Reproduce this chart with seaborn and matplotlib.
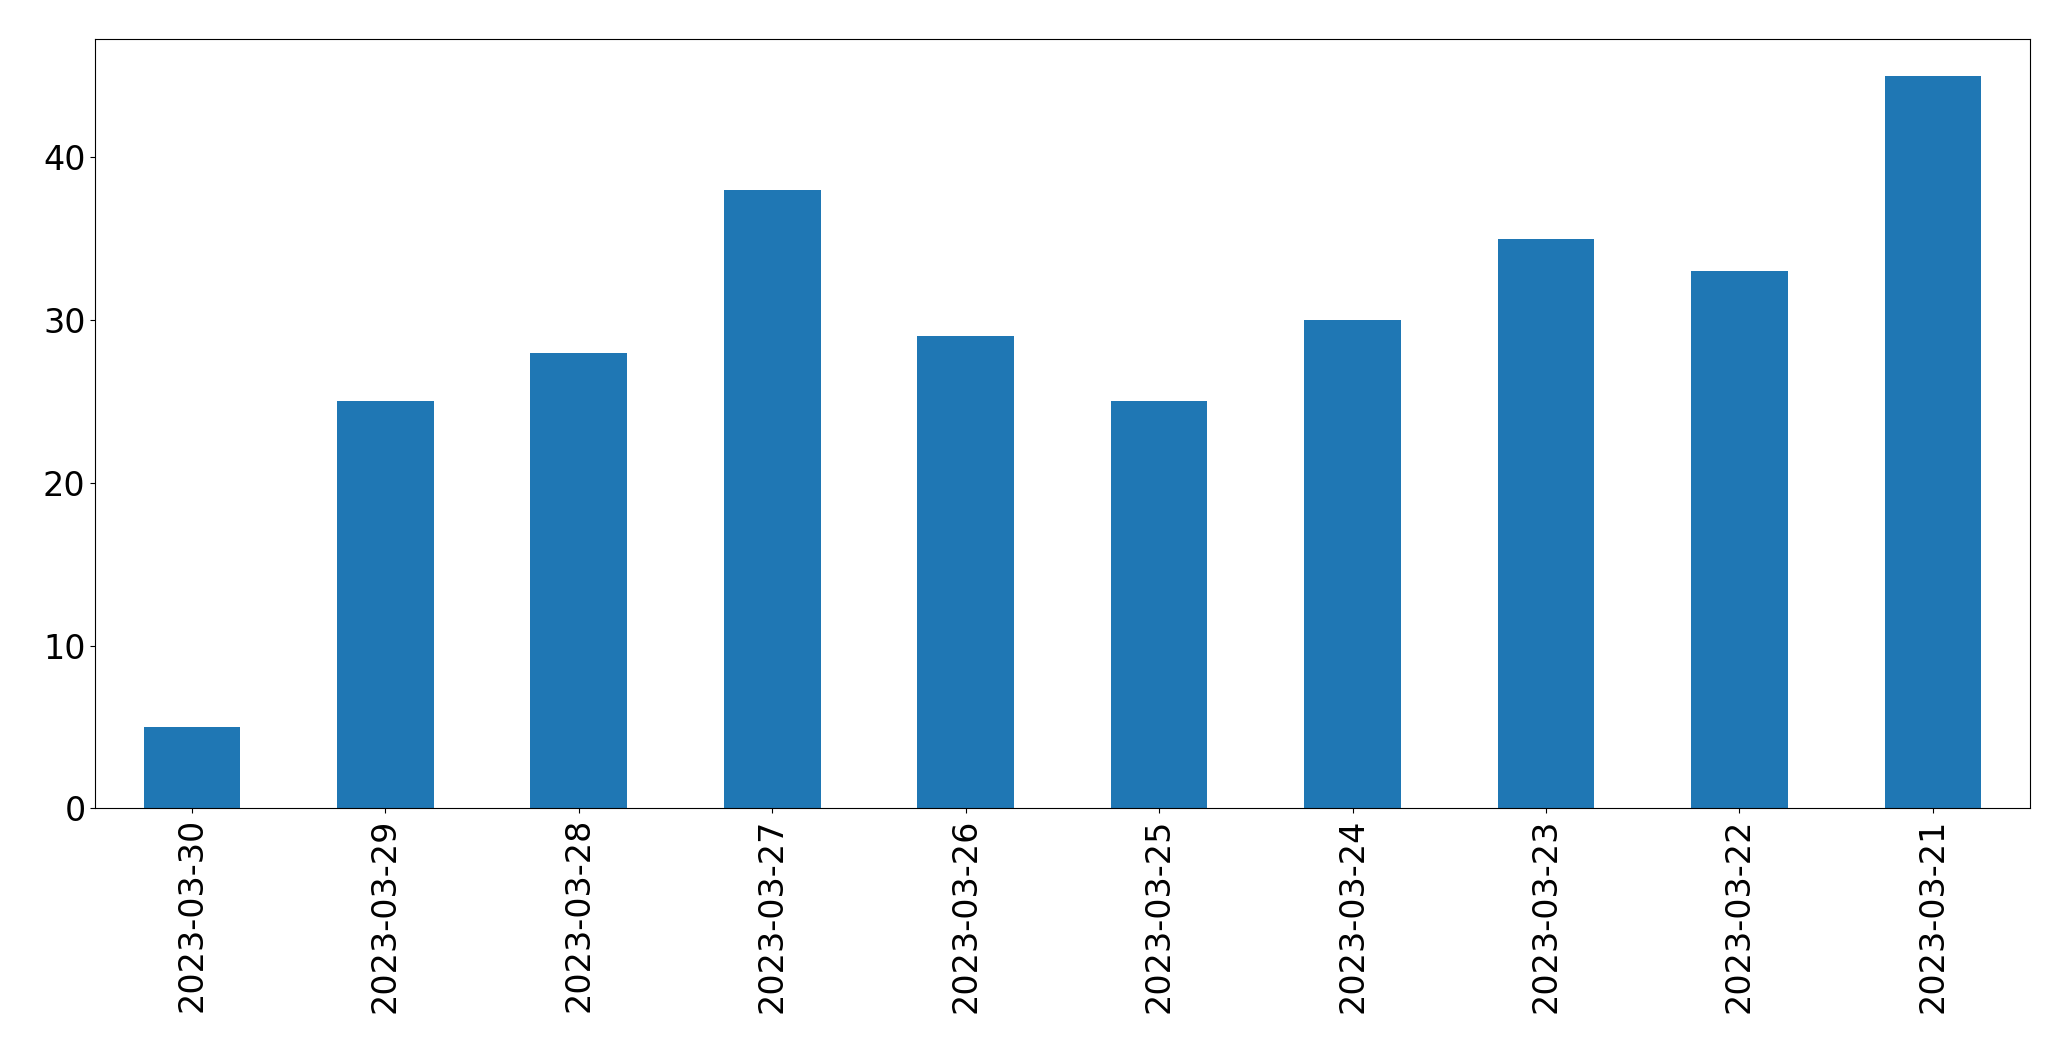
import matplotlib
matplotlib.use("Agg")
import matplotlib.pyplot as plt
import seaborn as sns
import pandas as pd

# valeurs
dates = ["2023-03-30", "2023-03-29", "2023-03-28", "2023-03-27", "2023-03-26",
         "2023-03-25", "2023-03-24", "2023-03-23", "2023-03-22", "2023-03-21"]
counts = [5, 25, 28, 38, 29, 25, 30, 35, 33, 45]

df = pd.DataFrame({"date": dates, "count": counts})

fig = plt.figure(figsize=(20.71, 10.61), dpi=100)
ax = fig.add_axes([0.046, 0.238, 0.934, 0.725])
sns.barplot(data=df, x="date", y="count", order=dates, color="#1f77b4",
            saturation=1, width=0.5, ax=ax)
ax.set_xlabel("")
ax.set_ylabel("")
ax.set_xlim(-0.5, len(dates) - 0.5)
ax.tick_params(axis="x", labelrotation=90, labelsize=24)
ax.tick_params(axis="y", labelsize=24)
ax.set_yticks([0, 10, 20, 30, 40])

fig.savefig("out.png", dpi=100)
